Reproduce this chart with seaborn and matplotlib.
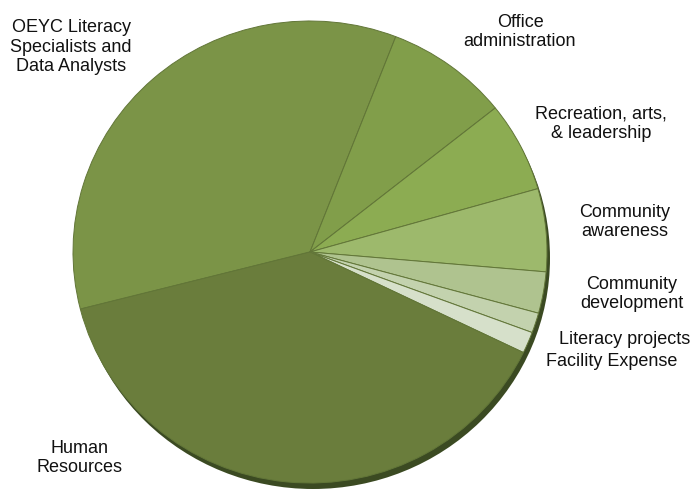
import matplotlib
matplotlib.use("Agg")
import matplotlib.pyplot as plt
from matplotlib.patches import Ellipse
import seaborn as sns

# Budget shares, read clockwise from the left edge of the pie
categories = [
    "OEYC Literacy\nSpecialists and\nData Analysts",
    "Office\nadministration",
    "Recreation, arts,\n& leadership",
    "Community\nawareness",
    "Community\ndevelopment",
    "Literacy projects",
    "Facility Expense",
    "Human\nResources",
]
shares = [34.9, 8.4, 6.3, 5.8, 2.9, 1.4, 1.5, 38.9]
colors = ["#7b9447", "#819e4a", "#8cac52", "#9db96c",
          "#afc38f", "#c3d2ae", "#d6e0ca", "#6a7d3c"]

# label centres in pixels (x, y from top)
label_x = [71, 520, 601, 625, 632, 625, 612, 80]
label_y = [47, 32, 124, 222, 294, 339, 362, 458]

sns.set_theme(style="white")
plt.rcParams["font.family"] = ["Liberation Sans", "DejaVu Sans"]

W, H = 694, 493
fig = plt.figure(figsize=(W / 100, H / 100), dpi=100)
ax = fig.add_axes([0, 0, 1, 1])

# pie is slightly squashed vertically: rx 237, ry 231
rx, ry = 237, 231
yscale = rx / ry
cx, cy = 310, (H - 252) * yscale

# shadow under the pie
ax.add_patch(Ellipse((cx + 3, cy - 6 * yscale), 2 * rx, 2 * rx,
                     facecolor="#3b4a22", edgecolor="none", zorder=0))

ax.pie(shares, colors=colors, startangle=194.3, counterclock=False,
       center=(cx, cy), radius=rx, frame=True,
       wedgeprops=dict(edgecolor="#627638", linewidth=0.7))

ax.set_xlim(0, W)
ax.set_ylim(0, H * yscale)
ax.set_aspect("auto")
ax.axis("off")

for lab, x, y in zip(categories, label_x, label_y):
    fig.text(x / W, 1 - y / H, lab, ha="center", va="center",
             fontsize=13, color="#111111")

fig.savefig("out.png", dpi=100)
